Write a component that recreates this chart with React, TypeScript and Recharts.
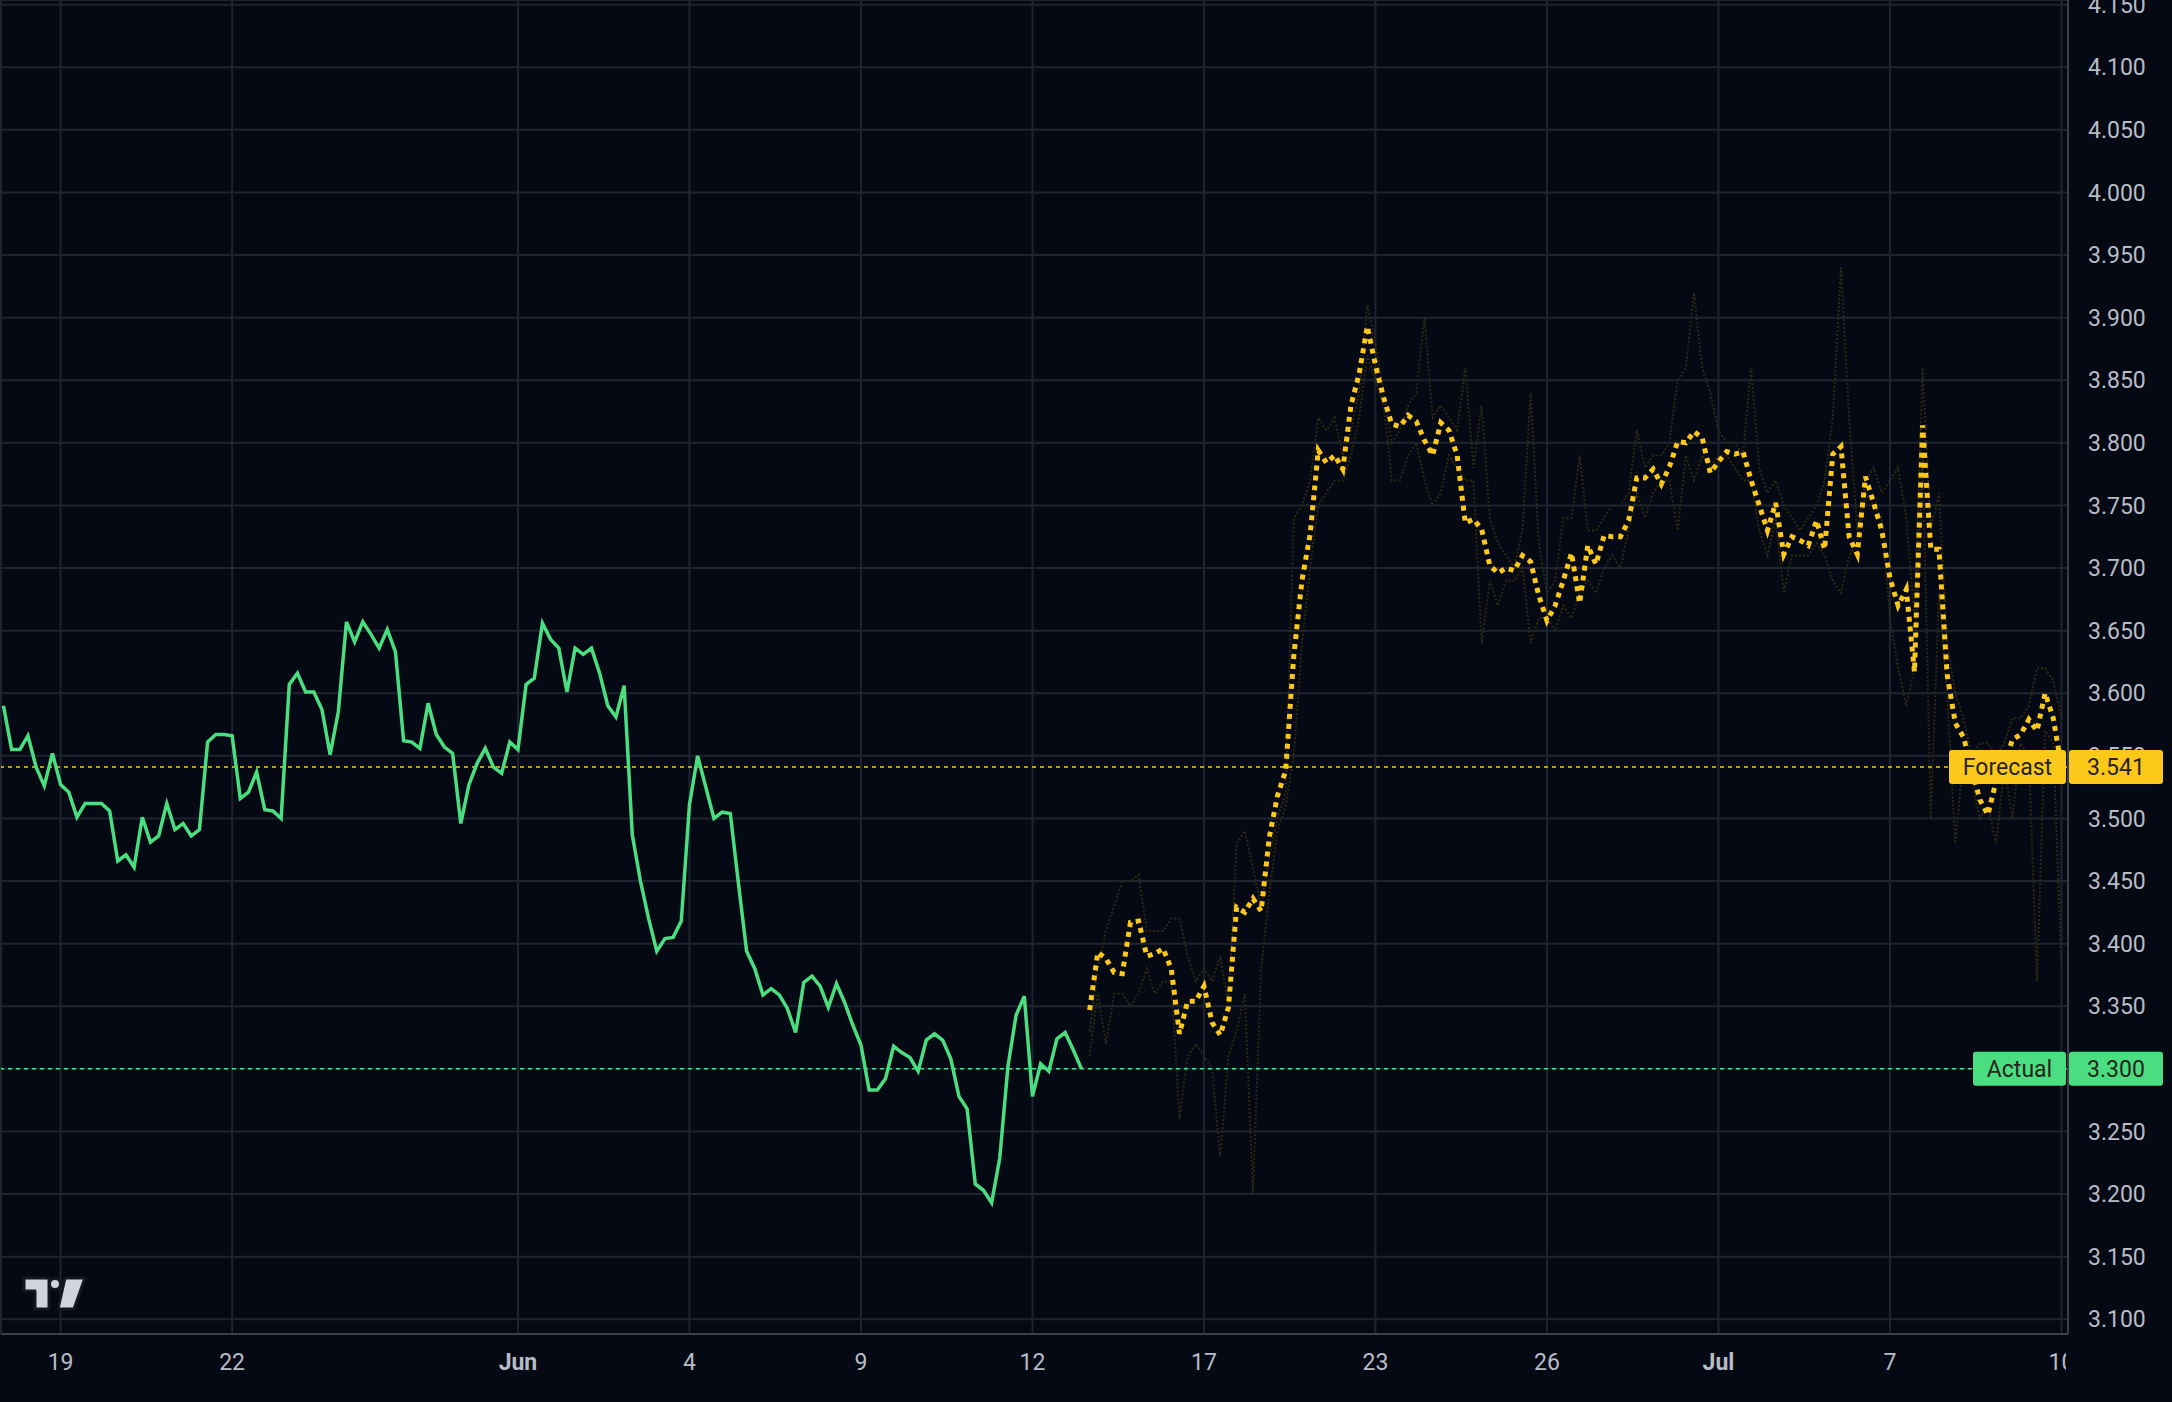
import {
  LineChart,
  Line,
  XAxis,
  YAxis,
  CartesianGrid,
  ReferenceLine,
} from 'recharts';

// x positions are bar indexes; the tick "19" sits on bar 0
const tickPositions = [0, 21, 56, 77, 98, 119, 140, 161, 182, 203, 224, 245];
const tickLabels = ['19', '22', 'Jun', '4', '9', '12', '17', '23', '26', 'Jul', '7', '10'];
const priceTicks = [
  3.1, 3.15, 3.2, 3.25, 3.3, 3.35, 3.4, 3.45, 3.5, 3.55, 3.6, 3.65, 3.7, 3.75, 3.8, 3.85, 3.9,
  3.95, 4.0, 4.05, 4.1, 4.15,
];

// Actual, bars -7 .. 125
const actualStart = -7;
const actualValues = [
  3.59, 3.555, 3.555, 3.566, 3.541, 3.526, 3.552, 3.527, 3.521, 3.501, 3.512, 3.512, 3.512,
  3.506, 3.466, 3.471, 3.461, 3.501, 3.481, 3.486, 3.512, 3.491, 3.496, 3.486, 3.491, 3.561,
  3.567, 3.567, 3.566, 3.516, 3.521, 3.537, 3.507, 3.506, 3.5, 3.607, 3.616, 3.601, 3.601,
  3.587, 3.551, 3.585, 3.657, 3.641, 3.657, 3.647, 3.636, 3.651, 3.633, 3.562, 3.561, 3.556,
  3.592, 3.567, 3.557, 3.552, 3.496, 3.527, 3.544, 3.556, 3.541, 3.536, 3.561, 3.555, 3.607,
  3.612, 3.656, 3.643, 3.636, 3.601, 3.636, 3.631, 3.636, 3.616, 3.59, 3.581, 3.606, 3.487,
  3.45, 3.42, 3.394, 3.404, 3.405, 3.418, 3.511, 3.55, 3.525, 3.5, 3.505, 3.504, 3.448, 3.394,
  3.38, 3.359, 3.364, 3.359, 3.348, 3.329, 3.369, 3.374, 3.366, 3.349, 3.368, 3.353, 3.335,
  3.319, 3.283, 3.283, 3.292, 3.318, 3.313, 3.309, 3.298, 3.323, 3.328, 3.323, 3.308, 3.278,
  3.268, 3.208, 3.203, 3.193, 3.229, 3.302, 3.343, 3.358, 3.278, 3.304, 3.298, 3.324, 3.329,
  3.315, 3.3,
];

// Forecast, bars 126 .. 245
const forecastStart = 126;
const forecastValues = [
  3.347, 3.393, 3.388, 3.377, 3.376, 3.417, 3.418, 3.39, 3.392, 3.396, 3.38, 3.328, 3.354,
  3.354, 3.366, 3.337, 3.327, 3.349, 3.429, 3.425, 3.436, 3.426, 3.485, 3.518, 3.538, 3.63,
  3.69, 3.727, 3.794, 3.784, 3.79, 3.779, 3.83, 3.855, 3.893, 3.862, 3.836, 3.815, 3.813,
  3.822, 3.817, 3.802, 3.79, 3.816, 3.81, 3.79, 3.736, 3.739, 3.731, 3.702, 3.696, 3.7, 3.698,
  3.71, 3.705, 3.678, 3.658, 3.67, 3.69, 3.712, 3.672, 3.718, 3.703, 3.726, 3.725, 3.725,
  3.738, 3.772, 3.772, 3.779, 3.767, 3.781, 3.801, 3.8, 3.809, 3.804, 3.776, 3.785, 3.793,
  3.791, 3.793, 3.77, 3.75, 3.73, 3.752, 3.711, 3.725, 3.722, 3.718, 3.738, 3.715, 3.791,
  3.797, 3.725, 3.711, 3.773, 3.752, 3.73, 3.692, 3.67, 3.683, 3.617, 3.814, 3.715, 3.715,
  3.615, 3.576, 3.565, 3.54, 3.515, 3.503, 3.53, 3.543, 3.563, 3.567, 3.579, 3.57, 3.6, 3.58,
  3.541,
];

// faint model runs behind the forecast, same bars
const forecastHigh = [
  3.33, 3.38, 3.41, 3.43, 3.45, 3.45, 3.455, 3.41, 3.41, 3.41, 3.42, 3.42, 3.39, 3.37, 3.38,
  3.37, 3.39, 3.35, 3.48, 3.49, 3.46, 3.43, 3.47, 3.5, 3.52, 3.74, 3.75, 3.77, 3.82, 3.81, 3.82,
  3.79, 3.81, 3.84, 3.91, 3.88, 3.84, 3.8, 3.81, 3.83, 3.84, 3.9, 3.82, 3.83, 3.82, 3.81, 3.86,
  3.78, 3.83, 3.74, 3.72, 3.71, 3.7, 3.73, 3.84, 3.72, 3.68, 3.69, 3.74, 3.74, 3.79, 3.73, 3.73,
  3.74, 3.75, 3.75, 3.76, 3.81, 3.78, 3.79, 3.79, 3.8, 3.85, 3.86, 3.92, 3.86, 3.84, 3.81, 3.8,
  3.8, 3.79, 3.86, 3.78, 3.76, 3.77, 3.75, 3.74, 3.73, 3.74, 3.75, 3.77, 3.82, 3.94, 3.82, 3.73,
  3.77, 3.78, 3.76, 3.77, 3.78, 3.74, 3.66, 3.86, 3.73, 3.76, 3.64, 3.6, 3.58, 3.55, 3.56, 3.56,
  3.55, 3.56, 3.58, 3.58, 3.59, 3.62, 3.62, 3.61, 3.58,
];
const forecastLow = [
  3.31, 3.36, 3.32, 3.36, 3.36, 3.35, 3.36, 3.38, 3.36, 3.37, 3.37, 3.26, 3.31, 3.32, 3.31,
  3.3, 3.23, 3.31, 3.33, 3.36, 3.2, 3.38, 3.44, 3.49, 3.51, 3.55, 3.64, 3.7, 3.75, 3.76, 3.77,
  3.77, 3.79, 3.82, 3.87, 3.85, 3.83, 3.77, 3.77, 3.79, 3.8, 3.77, 3.75, 3.76, 3.79, 3.78, 3.77,
  3.77, 3.64, 3.69, 3.67, 3.69, 3.69, 3.7, 3.64, 3.66, 3.66, 3.65, 3.67, 3.66, 3.68, 3.69, 3.68,
  3.7, 3.71, 3.7, 3.73, 3.76, 3.74, 3.76, 3.77, 3.77, 3.73, 3.79, 3.77, 3.79, 3.78, 3.79, 3.79,
  3.78, 3.77, 3.77, 3.73, 3.71, 3.74, 3.68, 3.71, 3.71, 3.71, 3.72, 3.71, 3.69, 3.68, 3.71,
  3.72, 3.76, 3.75, 3.74, 3.66, 3.62, 3.59, 3.62, 3.79, 3.5, 3.68, 3.6, 3.48, 3.55, 3.53, 3.5,
  3.51, 3.48, 3.54, 3.5, 3.56, 3.55, 3.37, 3.57, 3.56, 3.38,
];

// last values shown as tags on the price scale
const tagNames = ['Forecast', 'Actual'];
const tagValues = [3.541, 3.3];

const YELLOW = '#fcc81a';
const GREEN = '#4ade80';
const GRID = '#1f2431';
const TEXT = '#b8bcc6';
const TAG_TEXT = '#26251c';
const FONT = 'Roboto, "Noto Sans", sans-serif';
const PLOT_RIGHT = 2068;

const data: any[] = [];
for (let t = actualStart; t < forecastStart + forecastValues.length; t++) {
  const a = t - actualStart;
  const f = t - forecastStart;
  data.push({
    t,
    actual: a >= 0 && a < actualValues.length ? actualValues[a] : null,
    forecast: f >= 0 ? forecastValues[f] : null,
    high: f >= 0 ? forecastHigh[f] : null,
    low: f >= 0 ? forecastLow[f] : null,
  });
}

const XTick = ({ x, y, payload, index }: any) => {
  const i = tickPositions.indexOf(payload.value);
  const label = i >= 0 ? tickLabels[i] : '';
  const bold = label === 'Jun' || label === 'Jul';
  return (
    <g>
      <defs>
        <clipPath id={`xclip${index}`}>
          <rect x={0} y={y - 40} width={PLOT_RIGHT - 2} height={120} />
        </clipPath>
      </defs>
      <text
        x={x}
        y={y}
        dy="0.71em"
        textAnchor="middle"
        fill={TEXT}
        fontSize={23}
        fontWeight={bold ? 700 : 400}
        fontFamily={FONT}
        clipPath={`url(#xclip${index})`}
      >
        {label}
      </text>
    </g>
  );
};

// tag ticks: name box inside the plot, value box over the price scale
const TagTick = ({ y, payload }: any) => {
  const i = tagValues.findIndex((v) => Math.abs(v - payload.value) < 1e-6);
  if (i < 0) return null;
  const fill = i === 0 ? YELLOW : GREEN;
  const nameWidth = i === 0 ? 117 : 93;
  return (
    <g>
      <rect x={PLOT_RIGHT - nameWidth - 2} y={y - 17} width={nameWidth} height={34} rx={3} fill={fill} />
      <text
        x={PLOT_RIGHT - 2 - nameWidth / 2}
        y={y}
        dy="0.36em"
        textAnchor="middle"
        fill={TAG_TEXT}
        fontSize={23}
        fontFamily={FONT}
      >
        {tagNames[i]}
      </text>
      <rect x={PLOT_RIGHT + 1} y={y - 17} width={94} height={34} rx={3} fill={fill} />
      <text
        x={PLOT_RIGHT + 48}
        y={y}
        dy="0.36em"
        textAnchor="middle"
        fill={TAG_TEXT}
        fontSize={23}
        fontFamily={FONT}
      >
        {tagValues[i].toFixed(3)}
      </text>
    </g>
  );
};

const Y_DOMAIN = [3.0882, 4.1537];

export default function App() {
  return (
    <div
      style={{
        position: 'absolute',
        left: 0,
        top: 0,
        width: 2172,
        height: 1402,
        background: '#050913',
      }}
    >
      <LineChart
        width={2172}
        height={1402}
        data={data}
        margin={{ top: 0, right: 0, bottom: 0, left: 0 }}
      >
        <CartesianGrid yAxisId="price" stroke={GRID} strokeWidth={2} />
        <XAxis
          dataKey="t"
          type="number"
          domain={[-7.3, 245.8]}
          allowDataOverflow
          ticks={tickPositions}
          interval={0}
          height={68}
          tickLine={false}
          tickSize={0}
          tickMargin={20}
          axisLine={{ stroke: '#3a3f4c', strokeWidth: 2 }}
          tick={<XTick />}
        />
        <YAxis
          yAxisId="price"
          orientation="right"
          width={104}
          domain={Y_DOMAIN}
          allowDataOverflow
          ticks={priceTicks}
          interval={0}
          tickLine={false}
          tickSize={0}
          tickMargin={20}
          axisLine={{ stroke: '#3a3f4c', strokeWidth: 2 }}
          tickFormatter={(v: number) => v.toFixed(3)}
          tick={{ fill: TEXT, fontSize: 23, fontFamily: FONT, textAnchor: 'start' }}
        />
        <YAxis
          yAxisId="tags"
          orientation="left"
          width={1}
          domain={Y_DOMAIN}
          allowDataOverflow
          ticks={tagValues}
          interval={0}
          tickLine={false}
          axisLine={false}
          tick={<TagTick />}
        />
        <Line
          yAxisId="price"
          dataKey="high"
          stroke="#2e2915"
          strokeWidth={2}
          strokeDasharray="2 2"
          dot={false}
          activeDot={false}
          isAnimationActive={false}
        />
        <Line
          yAxisId="price"
          dataKey="low"
          stroke="#2e2915"
          strokeWidth={2}
          strokeDasharray="2 2"
          dot={false}
          activeDot={false}
          isAnimationActive={false}
        />
        <ReferenceLine
          yAxisId="price"
          y={tagValues[0]}
          stroke={YELLOW}
          strokeWidth={1.5}
          strokeDasharray="4 4"
        />
        <ReferenceLine
          yAxisId="price"
          y={tagValues[1]}
          stroke={GREEN}
          strokeWidth={1.5}
          strokeDasharray="4 4"
        />
        <Line
          yAxisId="price"
          dataKey="actual"
          stroke={GREEN}
          strokeWidth={3.5}
          dot={false}
          activeDot={false}
          isAnimationActive={false}
        />
        <Line
          yAxisId="price"
          dataKey="forecast"
          stroke={YELLOW}
          strokeWidth={5}
          strokeDasharray="5 5"
          dot={false}
          activeDot={false}
          isAnimationActive={false}
        />
      </LineChart>
      {/* TradingView mark, bottom-left */}
      <svg
        width={70}
        height={44}
        style={{ position: 'absolute', left: 20, top: 1273 }}
        viewBox="0 0 70 44"
      >
        <g stroke="#131722" strokeWidth={3} strokeLinejoin="round" fill="#d1d4dc">
          <path d="M4 5 H29 V36 H15 V18 H4 Z" />
          <circle cx={35} cy={11} r={5.5} />
          <path d="M45 5 H65 L54 36 H38 Z" />
        </g>
      </svg>
    </div>
  );
}
